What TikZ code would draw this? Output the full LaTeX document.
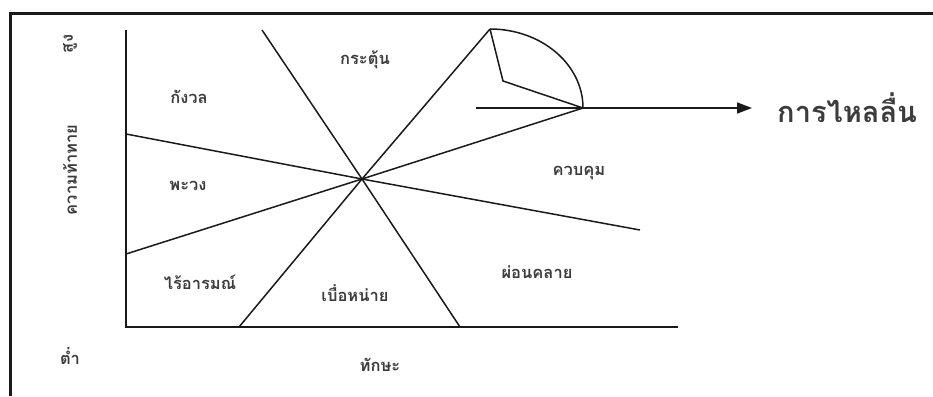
\documentclass[tikz,border=0pt]{standalone}
\usepackage{fontspec}
\usepackage{tikz}
\usetikzlibrary{arrows.meta,positioning,calc}
\newfontfamily\thaifont[Script=Thai]{Loma}
\definecolor{FlowInk}{HTML}{1A1A1A}
\begin{document}
\begin{tikzpicture}[x=1pt,y=-1pt,font=\thaifont\bfseries\fontsize{16.5}{19}\selectfont,
    axisline/.style={FlowInk, line width=1.8pt},
    zoneline/.style={FlowInk, line width=1.5pt},
    zonelabel/.style={text=FlowInk!85, inner sep=0pt}]
    \useasboundingbox (0,0) rectangle (933,396);
    \draw[FlowInk, line width=3pt] (933,14) -- (10,14) -- (10,396);

    % axes
    \coordinate (ytop) at (126,30);
    \coordinate (orig) at (126,327);
    \coordinate (xend) at (678,327);
    \draw[axisline] (ytop) -- (orig) -- (xend);

    % zone lines through the centre
    \coordinate (c) at (362,179);
    \coordinate (aL) at (126,134);  \coordinate (aR) at (640,230);
    \coordinate (bL) at (126,254);  \coordinate (bR) at (583,108);
    \coordinate (cT) at (262,30);   \coordinate (cB) at (460,327);
    \coordinate (dB) at (239,327);  \coordinate (dT) at (490,29);
    \draw[zoneline] (aL) -- (c) -- (aR);
    \draw[zoneline] (bL) -- (c) -- (bR);
    \draw[zoneline] (cT) -- (c) -- (cB);
    \draw[zoneline] (dB) -- (c) -- (dT);

    % flow sector
    \coordinate (kink) at (503,81);
    \draw[zoneline] (dT) -- (kink) -- (bR);
    \draw[zoneline] (dT) .. controls (541,29) and (583,64) .. (bR);
    \coordinate (flowstart) at (476,108);
    \coordinate (flowtip) at (752,108);
    \draw[zoneline, -{Triangle[length=15pt,width=11pt]}] (flowstart) -- (flowtip);
    \node[zonelabel, anchor=west, font=\thaifont\bfseries\fontsize{29}{33}\selectfont]
      (flow) at (777,108) {การไหลลื่น};

    \node[zonelabel] (worry) at (189,97) {กังวล};
    \node[zonelabel] (arousal) at (365,60) {กระตุ้น};
    \node[zonelabel] (control) at (579,173) {ควบคุม};
    \node[zonelabel] (anxiety) at (188,186) {พะวง};
    \node[zonelabel] (apathy) at (200,282) {ไร้อารมณ์};
    \node[zonelabel] (boredom) at (355,293) {เบื่อหน่าย};
    \node[zonelabel] (relax) at (537,272) {ผ่อนคลาย};

    \node[zonelabel, rotate=90] (high) at (70,44) {สูง};
    \node[zonelabel, rotate=90] (challenge) at (70,170) {ความท้าทาย};
    \node[zonelabel] (low) at (70,356) {ต่ำ};
    \node[zonelabel] (skill) at (380,365) {ทักษะ};
\end{tikzpicture}
\end{document}
